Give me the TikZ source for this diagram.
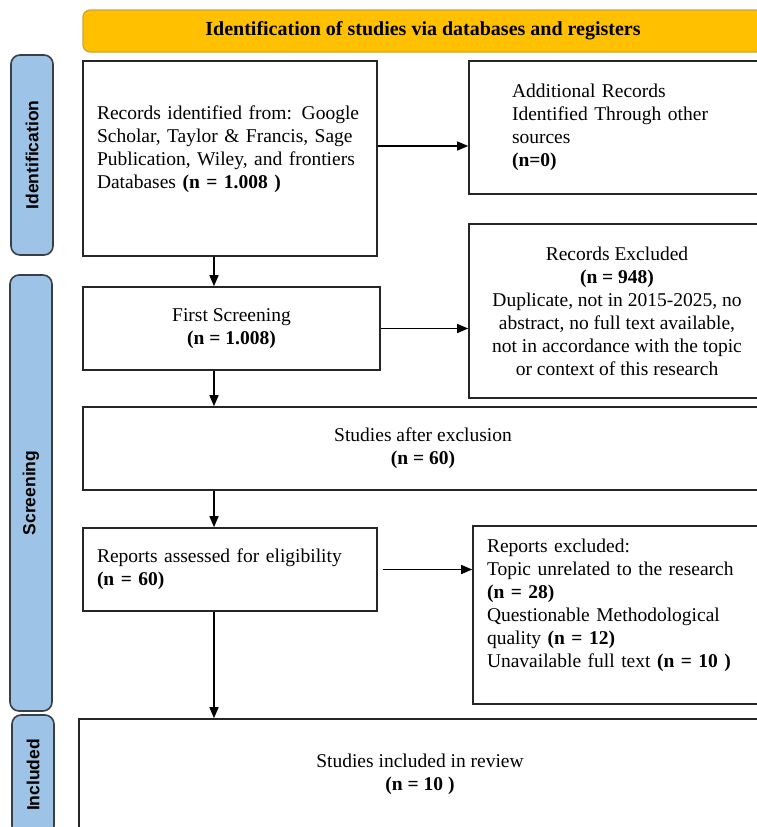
\documentclass[tikz,border=0pt]{standalone}
\usepackage{fontspec}
\setmainfont{Liberation Serif}
\newfontfamily\stagefont{Liberation Sans}
\usetikzlibrary{arrows.meta}
\usetikzlibrary{positioning}

\definecolor{bannergold}{HTML}{FFC000}
\definecolor{bannerline}{HTML}{CDA434}
\definecolor{stageblue}{HTML}{9DC3E6}
\definecolor{stageline}{HTML}{3A3F45}
\definecolor{boxline}{HTML}{262626}
\newcommand{\boxfont}{\fontsize{19.5}{23}\selectfont}

\begin{document}
\begin{tikzpicture}[x=1pt,y=-1pt,
  box/.style={draw=boxline,line width=1.6pt,fill=white,inner sep=0pt,font=\boxfont},
  stage/.style={draw=stageline,line width=1.6pt,fill=stageblue,rounded corners=9pt,rotate=90,
    minimum height=42pt,inner sep=0pt,font={\stagefont\bfseries\fontsize{17.5}{20}\selectfont}},
  banner/.style={draw=bannerline,line width=1.2pt,fill=bannergold,rounded corners=7pt,inner sep=0pt,
    font={\bfseries\fontsize{20}{23}\selectfont}},
  link/.style={-{Triangle[length=11pt,width=9pt]},line width=1.4pt}]
\useasboundingbox (0,0) rectangle (757,827);
\clip (0,0) rectangle (757,827);

% stages on the left
\node[stage,minimum width=200pt] (ident) at (32,155) {Identification};
\node[stage,minimum width=436pt] (screen) at (31,493) {Screening};
\node[stage,minimum width=120pt] (incl) at (33,775) {Included};

% header
\node[banner,minimum width=680pt,minimum height=42pt] (head) at (423,31) {Identification of studies via databases and registers};

% boxes
\node[box,minimum width=294pt,minimum height=195pt,text width=266pt,align=left] (rec) at (230,158.5)
  {Records identified from: Google\\Scholar, Taylor \& Francis, Sage\\Publication, Wiley, and frontiers\\Databases \textbf{(n = 1.008 )}\\ \mbox{}};
\node[box,minimum width=296pt,minimum height=133pt,text width=210pt,align=left] (add) at (617,127.5)
  {Additional Records\\Identified Through other\\sources\\\textbf{(n=0)}};
\node[box,minimum width=297pt,minimum height=83pt,align=center] (scr) at (231.5,328.5)
  {First Screening\\\textbf{(n = 1.008)}};
\node[box,minimum width=296pt,minimum height=174pt,align=center] (exc) at (617,311)
  {Records Excluded\\\textbf{(n = 948)}\\Duplicate, not in 2015-2025, no\\abstract, no full text available,\\not in accordance with the topic\\or context of this research};
\node[box,minimum width=680pt,minimum height=83pt,align=center] (aft) at (423,448.5)
  {Studies after exclusion\\\textbf{(n = 60)}};
\node[box,minimum width=294pt,minimum height=83pt,text width=266pt,align=left] (rep) at (230,569.5)
  {Reports assessed for eligibility\\\textbf{(n = 60)}};
\node[box,minimum width=292pt,minimum height=178pt,text width=264pt,align=left] (rex) at (619,615)
  {Reports excluded:\\Topic unrelated to the research\\\textbf{(n = 28)}\\Questionable Methodological\\quality \textbf{(n = 12)}\\Unavailable full text \textbf{(n = 10 )}\\ \mbox{}};
\node[box,minimum width=682pt,minimum height=110pt,align=center] (inc) at (420,774)
  {Studies included in review\\\textbf{(n = 10 )}};

% arrows
\coordinate (spine) at (214,0);
\draw[link] (rec.south -| spine) -- (scr.north -| spine);
\draw[link] (scr.south -| spine) -- (aft.north -| spine);
\draw[link] (aft.south -| spine) -- (rep.north -| spine);
\draw[link] (rep.south -| spine) -- (inc.north -| spine);
\draw[link] ([yshift=12.5pt]rec.east) -- ([yshift=12.5pt]rec.east -| add.west);
\draw[link] (scr.east) -- (scr.east -| exc.west);
\draw[link] ([xshift=5pt]rep.east) -- (rep.east -| rex.west);

\end{tikzpicture}
\end{document}
